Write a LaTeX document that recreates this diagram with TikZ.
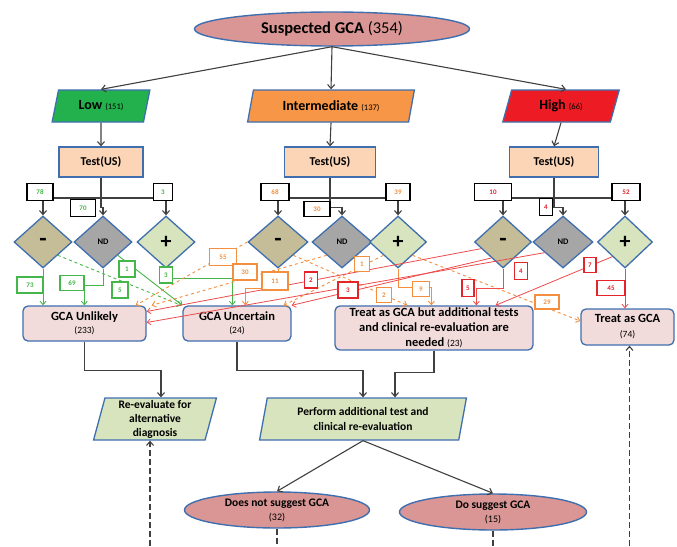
\documentclass[tikz,border=0pt]{standalone}
\usepackage{fontspec}
\setmainfont{Carlito}
\usetikzlibrary{shapes.geometric,arrows.meta,calc}
\definecolor{blueb}{HTML}{3F6FAF}
\definecolor{ellfill}{HTML}{D99694}
\definecolor{outfill}{HTML}{F2DCDB}
\definecolor{testfill}{HTML}{FBD5B5}
\definecolor{lowfill}{HTML}{22B14C}
\definecolor{intfill}{HTML}{F79646}
\definecolor{highfill}{HTML}{ED1C24}
\definecolor{minusfill}{HTML}{C4BD97}
\definecolor{ndfill}{HTML}{A6A6A6}
\definecolor{plusfill}{HTML}{D7E4BD}
\definecolor{gcol}{HTML}{45B649}
\definecolor{ocol}{HTML}{F38F3F}
\definecolor{rcol}{HTML}{EE4B4B}
\definecolor{rbox}{HTML}{E3242B}
\definecolor{dark}{HTML}{404040}
\begin{document}
\begin{tikzpicture}[x=1pt,y=-1pt,
  font=\bfseries,
  arr/.style={-{Straight Barb[length=4pt,width=7pt]}},
  conn/.style={draw=dark,line width=1.1pt},
  dconn/.style={conn,dash pattern=on 6pt off 3pt},
  ell/.style={ellipse,draw=blueb,fill=ellfill,line width=1.4pt,align=center,inner sep=0pt},
  para/.style={trapezium,trapezium left angle=74,trapezium right angle=106,trapezium stretches=true,draw=blueb,line width=1.3pt,inner sep=1pt,align=center},
  testbox/.style={draw=blueb,fill=testfill,line width=1.3pt,minimum height=30pt,font=\bfseries\fontsize{12}{14}\selectfont},
  dia/.style={diamond,draw=blueb,line width=1.3pt,minimum width=58pt,minimum height=52pt,inner sep=0pt},
  mdia/.style={dia,fill=minusfill,font=\bfseries\fontsize{24}{24}\selectfont},
  ndia/.style={dia,fill=ndfill,font=\bfseries\fontsize{8.5}{10}\selectfont},
  pdia/.style={dia,fill=plusfill,font=\bfseries\fontsize{22}{22}\selectfont},
  outbox/.style={draw=blueb,fill=outfill,rounded corners=5pt,line width=1.3pt,align=center,inner sep=2pt},
  cnt/.style={draw=black,fill=white,line width=1.3pt,inner sep=0pt,minimum height=17pt,font=\bfseries\fontsize{7}{8}\selectfont},
  gbox/.style={cnt,draw=gcol,text=gcol,line width=1.1pt,minimum height=16pt},
  obox/.style={cnt,draw=ocol,text=ocol,line width=1.1pt,minimum height=16pt},
  rbx/.style={cnt,draw=rbox,text=rbox,line width=1.1pt,minimum height=16pt},
  gl/.style={draw=gcol,line width=0.9pt},
  ol/.style={draw=ocol,line width=0.9pt},
  rl/.style={draw=rcol,line width=0.8pt},
  carr/.style={-{Straight Barb[length=3.5pt,width=6pt]}}
]
\useasboundingbox[fill=white] (0,0) rectangle (677,546);

% top
\node[ell,minimum width=275pt,minimum height=34pt,font=\bfseries\fontsize{16.5}{18}\selectfont] (top) at (332,29) {Suspected GCA {\mdseries (354)}};
\node[para,fill=lowfill,minimum width=98pt,minimum height=32pt,font=\bfseries\fontsize{14}{16}\selectfont] (low) at (101,106) {Low {\fontsize{8.5}{10}\selectfont\mdseries (151)}};
\node[para,fill=intfill,minimum width=167pt,minimum height=32pt,font=\bfseries\fontsize{14}{16}\selectfont] (int) at (331,106) {Intermediate {\fontsize{8.5}{10}\selectfont\mdseries (137)}};
\node[para,fill=highfill,minimum width=117pt,minimum height=32pt,font=\bfseries\fontsize{14}{16}\selectfont] (high) at (561,106) {High {\fontsize{8.5}{10}\selectfont\mdseries (66)}};

% tests
\node[testbox,minimum width=84pt] (lt) at (101,162) {Test(US)};
\node[testbox,minimum width=91pt] (it) at (330,162) {Test(US)};
\node[testbox,minimum width=89pt] (ht) at (554,162) {Test(US)};

% diamonds
\node[mdia] (lm) at (43,242) {-};
\node[ndia] (ln) at (103,242) {ND};
\node[pdia] (lp) at (166,242) {+};
\node[mdia,minimum width=60pt] (im) at (278,242) {-};
\node[ndia,minimum width=60pt] (in) at (342,242) {ND};
\node[pdia,minimum width=57pt] (ip) at (398,242) {+};
\node[mdia,minimum width=57pt] (hm) at (503,242) {-};
\node[ndia,minimum width=60pt] (hn) at (563,242) {ND};
\node[pdia,minimum width=55pt] (hp) at (625,242) {+};

% outcome boxes
\node[outbox,minimum width=123pt,minimum height=35pt,font=\bfseries\fontsize{12.5}{13.5}\selectfont] (unl) at (84.5,323.5) {GCA Unlikely\\{\fontsize{9.5}{11}\selectfont\mdseries (233)}};
\node[outbox,minimum width=108pt,minimum height=35pt,font=\bfseries\fontsize{12.5}{13.5}\selectfont] (unc) at (237,323.5) {GCA Uncertain\\{\fontsize{9.5}{11}\selectfont\mdseries (24)}};
\node[outbox,minimum width=198pt,minimum height=44pt,font=\bfseries\fontsize{12.5}{15}\selectfont] (tbut) at (434,328) {Treat as GCA but additional tests\\and clinical re-evaluation are\\needed {\fontsize{9.5}{11}\selectfont\mdseries (23)}};
\node[outbox,minimum width=93pt,minimum height=36pt,font=\bfseries\fontsize{12.5}{15}\selectfont] (tgca) at (627.5,327) {Treat as GCA\\{\fontsize{9.5}{11}\selectfont\mdseries (74)}};

% lower
\node[para,fill=plusfill,trapezium left angle=78,trapezium right angle=102,minimum width=124pt,minimum height=42pt,font=\bfseries\fontsize{11.5}{14}\selectfont] (reeval) at (155,419) {Re-evaluate for\\alternative\\diagnosis};
\node[para,fill=plusfill,trapezium left angle=78,trapezium right angle=102,minimum width=207pt,minimum height=42pt,font=\bfseries\fontsize{11.5}{15}\selectfont] (perf) at (363,419) {Perform additional test and\\clinical re-evaluation};
\node[ell,minimum width=185pt,minimum height=36pt,font=\bfseries\fontsize{11.5}{14}\selectfont] (dn) at (277,510) {Does not suggest GCA\\{\fontsize{10}{12}\selectfont\mdseries (32)}};
\node[ell,minimum width=187pt,minimum height=36pt,font=\bfseries\fontsize{11.5}{14}\selectfont] (ds) at (493,512) {Do suggest GCA\\{\fontsize{10}{12}\selectfont\mdseries (15)}};

\coordinate (bar) at (0,198);
\coordinate (bot) at (0,546);

% top connectors
\draw[conn,arr] (top.south) -- (low.north);
\draw[conn,arr] (top.south) -- (int.north);
\draw[conn,arr] (top.south) -- ([xshift=5pt]high.north);
\draw[conn,arr] (low.south) -- (lt.north);
\draw[conn,arr] (int.south) -- (it.north);
\draw[conn,arr] (high.south) -- (ht.north);

% test to diamonds
\foreach \t/\m/\n/\p in {lt/lm/ln/lp,it/im/in/ip,ht/hm/hn/hp}{
  \draw[conn] (\m.north |- bar) -- (\p.north |- bar);
  \draw[conn] (\t.south) -- (\t.south |- bar);
  \draw[conn,arr] (\m.north |- bar) -- (\m.north);
  \draw[conn,arr] (\p.north |- bar) -- (\p.north);
  \draw[conn,arr] (\t.south) |- ($(\n.north)+(0,-8)$) -- (\n.north);
}

% green
\draw[gl,carr] (lm.south) -- (lm.south |- unl.north);
\draw[gl,carr] (ln.south) -- ++(0,17) -| ([xshift=62pt]unl.north west);
\draw[gl,carr] (lp.south) -- ++(0,10) -| ([xshift=50pt]unc.north west);
\draw[gl,carr,dashed] (lm.south east) -- ([xshift=-1pt]unc.north west);
\draw[gl,carr] (ln.south east) -- (unc.north west);

% orange
\draw[ol,carr,dashed] (im.west) -- ([xshift=-11pt]unl.north east);
\draw[ol,carr,dashed] (in.south west) -- ([xshift=5pt]unl.north east);
\draw[ol,carr] (im.south) -- ++(0,20) -| ([xshift=63pt]unc.north west);
\draw[ol,carr,dashed] (im.south east) -- ([xshift=73pt]tbut.north west);
\draw[ol,carr,dashed] (ip.south west) -- ([xshift=-8pt]unc.north east);
\draw[ol,carr] (ip.south) -- ++(0,19) -| ([xshift=97pt]tbut.north west);
\draw[ol,carr,dashed] (ip.south east) -- ([yshift=6pt]tgca.west);

% red
\draw[rl,carr] ($(hm.west)!0.25!(hm.south)$) -- ([yshift=12pt]unl.east);
\draw[rl,carr] ($(hm.west)!0.6!(hm.south)$) -- (unc.north east);
\draw[rl,carr] ($(hn.west)!0.4!(hn.south)$) -- ([yshift=1pt]unl.east);
\draw[rl,carr] (hm.south) -- ++(0,20) -| ([xshift=142pt]tbut.north west);
\draw[rl,carr] ($(hp.west)!0.55!(hp.south)$) -- ([xshift=-38pt]tbut.north east);
\draw[rl,carr] (hp.south) -- (hp.south |- tgca.north);

% lower connectors
\draw[conn,arr] (unl.south) -- ++(0,29) -| ([xshift=6pt]reeval.north);
\draw[conn,arr] (unc.south) -- ++(0,29) -| (perf.north);
\draw[conn,arr] (tbut.south) -- ++(0,22) -| ([xshift=32pt]perf.north);
\draw[conn,arr] (perf.south) -- (dn.north);
\draw[conn,arr] (perf.south) -- (ds.north);
\draw[dconn] (dn.south) -- (dn.south |- bot);
\draw[dconn] (ds.south) -- (ds.south |- bot);
\draw[dconn,arr] ([xshift=-5pt]reeval.south |- bot) -- ([xshift=-5pt]reeval.south);
\draw[dconn,arr] ([xshift=2pt]tgca.south |- bot) -- ([xshift=2pt]tgca.south);

% upper count boxes
\node[cnt,text=gcol,minimum width=26pt] (c78) at (40,192) {78};
\node[cnt,text=gcol,minimum width=25pt] (c70) at (83,208) {70};
\node[cnt,text=gcol,minimum width=19pt] (c3u) at (163,192) {3};
\node[cnt,text=ocol,minimum width=28pt] (c68) at (275,192) {68};
\node[cnt,text=ocol,minimum width=26pt,minimum height=15pt] (c30u) at (317,209) {30};
\node[cnt,text=ocol,minimum width=24pt] (c39) at (398,192) {39};
\node[cnt,text=rbox,minimum width=37pt] (c10) at (493,192) {10};
\node[cnt,text=rbox,minimum width=13pt] (c4u) at (546,207) {4};
\node[cnt,text=rbox,minimum width=28pt] (c52) at (626,192) {52};

% lower count boxes
\node[gbox,minimum width=26pt] at (30,285) {73};
\node[gbox,minimum width=24pt,minimum height=15pt] at (72,283) {69};
\node[gbox,minimum width=13pt] at (166,275) {3};
\node[gbox,minimum width=16pt] at (127,269) {1};
\node[gbox,minimum width=16pt] at (120,290) {5};
\node[obox,minimum width=27pt,minimum height=17pt] at (223,257) {55};
\node[obox,minimum width=24pt] at (245,272) {30};
\node[obox,minimum width=26pt,minimum height=18pt] at (275,281) {11};
\node[obox,minimum width=15pt,minimum height=15pt] at (362,264) {1};
\node[obox,minimum width=15pt,minimum height=15pt] at (384,295) {2};
\node[obox,minimum width=17pt,minimum height=15pt] at (421,289) {9};
\node[obox,minimum width=24pt,minimum height=14pt] at (547,302) {29};
\node[rbx,minimum width=13pt] at (311,280) {2};
\node[rbx,minimum width=20pt] at (348,290) {3};
\node[rbx,minimum width=12pt,minimum height=17pt] at (468,288) {5};
\node[rbx,minimum width=13pt,minimum height=17pt] at (521,271) {4};
\node[rbx,minimum width=12pt,minimum height=15pt] at (590,265) {7};
\node[rbx,minimum width=28pt,minimum height=15pt] at (611,288) {45};
\end{tikzpicture}
\end{document}
